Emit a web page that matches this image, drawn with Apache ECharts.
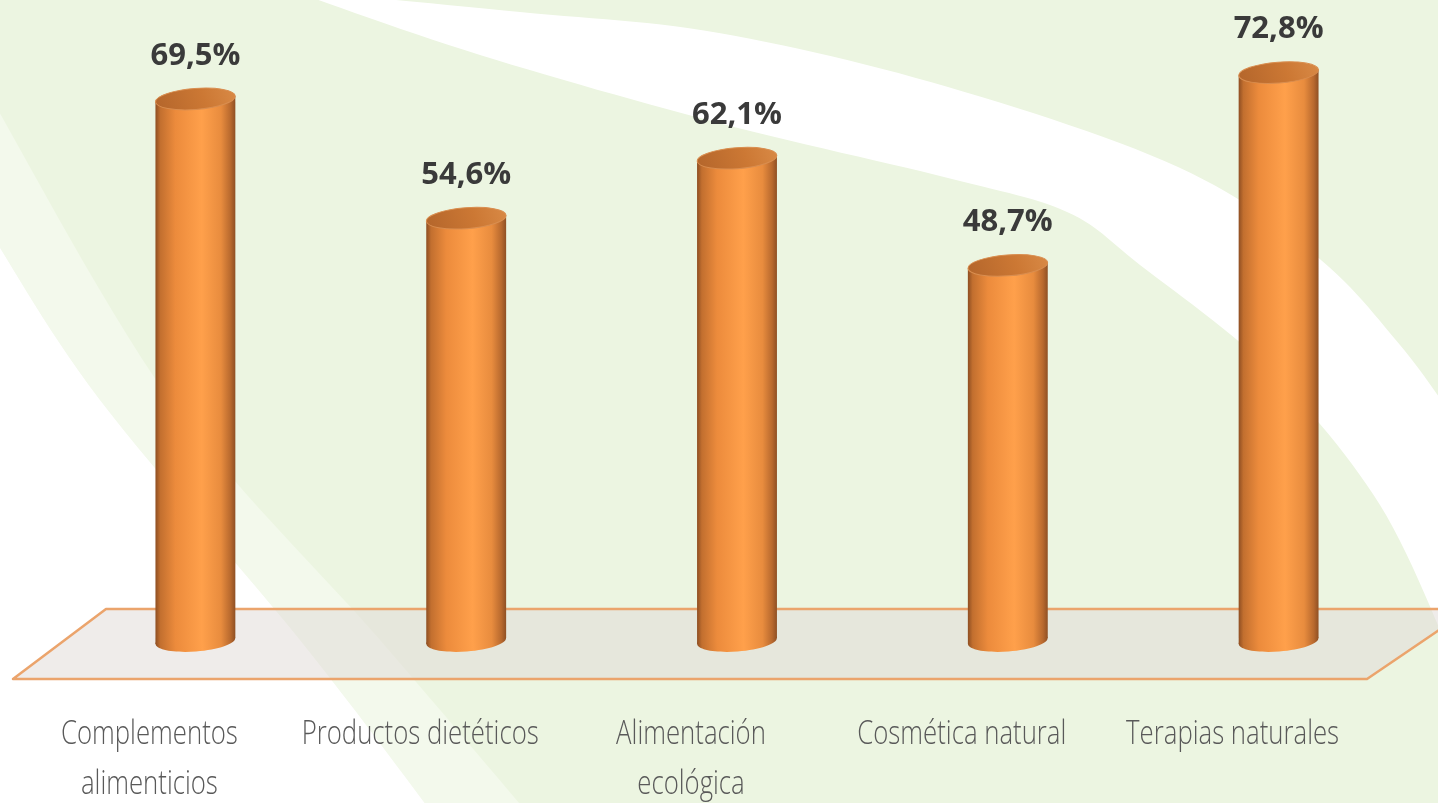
<!DOCTYPE html>
<html>
<head>
<meta charset="utf-8">
<script src="https://cdn.jsdelivr.net/npm/echarts@6/dist/echarts.min.js"></script>
<style>
html,body{margin:0;padding:0;background:#ecf5e1;}
#chart{width:1438px;height:803px;}
</style>
</head>
<body>
<div id="chart"></div>
<script>
// ---- data ----
const categories = ['Complementos\nalimenticios', 'Productos dietéticos', 'Alimentación\necológica', 'Cosmética natural', 'Terapias naturales'];
const values = [69.5, 54.6, 62.1, 48.7, 72.8];
const valueMin = 0;
const valueMax = 80;

// ---- helpers for decorative background curves ----
function spline(pts, seg) {
  seg = seg || 14;
  const out = [];
  for (let i = 0; i < pts.length - 1; i++) {
    const p0 = pts[Math.max(i - 1, 0)], p1 = pts[i], p2 = pts[i + 1], p3 = pts[Math.min(i + 2, pts.length - 1)];
    for (let t = 0; t < seg; t++) {
      const s = t / seg, s2 = s * s, s3 = s2 * s;
      const f = k => 0.5 * ((2 * p1[k]) + (-p0[k] + p2[k]) * s + (2 * p0[k] - 5 * p1[k] + 4 * p2[k] - p3[k]) * s2 + (-p0[k] + 3 * p1[k] - 3 * p2[k] + p3[k]) * s3);
      out.push([f(0), f(1)]);
    }
  }
  out.push(pts[pts.length - 1]);
  return out;
}

const bandUpper = spline([[290, -10], [520, 12], [719, 33], [948, 87], [1178, 167], [1315, 255], [1400, 345], [1455, 420]]);
const bandLower = spline([[1455, 665], [1380, 505], [1270, 370], [1140, 265], [1067, 212], [948, 178], [719, 123], [480, 55], [290, -10]]);
const whiteBand = bandUpper.concat([[1455, 420], [1455, 665]]).concat(bandLower);

const lineA = spline([[-5, 240], [100, 400], [300, 640], [430, 810]]);
const lineB = spline([[-5, 105], [170, 400], [380, 640], [525, 810]]);
const whiteLeft = lineA.concat([[-5, 810]]);
const lightBand = lineB.concat(lineA.slice().reverse());

const floorPts = [[13, 679], [106, 609], [1470, 609], [1367, 679]];

const chart = echarts.init(document.getElementById('chart'));

const DEPTH_SHIFT = 46;

function fmt(v) { return v.toFixed(1).replace('.', ',') + '%'; }

const option = {
  animation: false,
  backgroundColor: '#ecf5e1',
  grid: { left: 60, right: 24, top: 15, bottom: 148 },
  xAxis: { type: 'category', data: categories, show: false, boundaryGap: true },
  yAxis: { type: 'value', min: valueMin, max: valueMax, show: false },
  graphic: [
    { type: 'polygon', z: 0, silent: true, shape: { points: lightBand }, style: { fill: '#f3f9ec' } },
    { type: 'polygon', z: 0, silent: true, shape: { points: whiteLeft }, style: { fill: '#ffffff' } },
    { type: 'polygon', z: 0, silent: true, shape: { points: whiteBand }, style: { fill: '#ffffff' } },
    { type: 'polygon', z: 1, silent: true, shape: { points: floorPts },
      style: { fill: 'rgba(224,219,215,0.53)', stroke: '#eba46c', lineWidth: 2.5, lineJoin: 'round' } }
  ],
  series: [{
    type: 'custom',
    z: 5,
    clip: false,
    silent: true,
    data: values.map((v, i) => [i, v]),
    renderItem: function (params, api) {
      const idx = api.value(0), v = api.value(1);
      const top = api.coord([idx, v]);
      const base = api.coord([idx, valueMin]);
      const bw = api.size([1, 0])[0] * 0.295;
      const rx = bw / 2, ry = 10.5;
      const tilt = 0.075;
      const dy = rx * Math.sin(tilt);
      const cx = top[0], yT = top[1], yB = base[1] - 14;
      const bodyGrad = new echarts.graphic.LinearGradient(0, 0, 1, 0, [
        { offset: 0, color: '#8e4e22' },
        { offset: 0.06, color: '#c26f2f' },
        { offset: 0.25, color: '#ec8b3c' },
        { offset: 0.58, color: '#ffa04b' },
        { offset: 0.82, color: '#e88c3e' },
        { offset: 0.94, color: '#b8692e' },
        { offset: 1, color: '#8f5024' }
      ]);
      const topGrad = new echarts.graphic.LinearGradient(0, 1, 1, 0, [
        { offset: 0, color: '#b3652b' },
        { offset: 0.6, color: '#cc7834' },
        { offset: 1, color: '#d98a46' }
      ]);
      const children = [
        { type: 'ellipse', x: cx, y: yB, rotation: tilt, shape: { cx: 0, cy: 0, rx: rx, ry: ry }, style: { fill: bodyGrad } },
        { type: 'polygon', shape: { points: [[cx - rx, yT + dy], [cx + rx, yT - dy], [cx + rx, yB - dy], [cx - rx, yB + dy]] }, style: { fill: bodyGrad } },
        { type: 'ellipse', x: cx, y: yT, rotation: tilt, shape: { cx: 0, cy: 0, rx: rx, ry: ry }, style: { fill: topGrad, stroke: '#d98e50', lineWidth: 1 } },
        { type: 'text', x: cx, y: yT - 43, style: { text: fmt(v), fill: '#3a3a3a', fontSize: 31, fontWeight: 'bold', fontFamily: 'Open Sans', align: 'center', verticalAlign: 'middle' } }
      ];
      const lines = categories[idx].split('\n');
      lines.forEach((ln, li) => {
        children.push({
          type: 'text', x: cx - DEPTH_SHIFT, y: base[1] + 80 + li * 50, scaleX: 0.78,
          style: { text: ln, x: 0, y: 0, fill: '#595959', fontSize: 33, fontWeight: 300, fontFamily: 'Open Sans', align: 'center', verticalAlign: 'middle' }
        });
      });
      return { type: 'group', children: children };
    }
  }]
};
chart.setOption(option);
</script>
</body>
</html>
